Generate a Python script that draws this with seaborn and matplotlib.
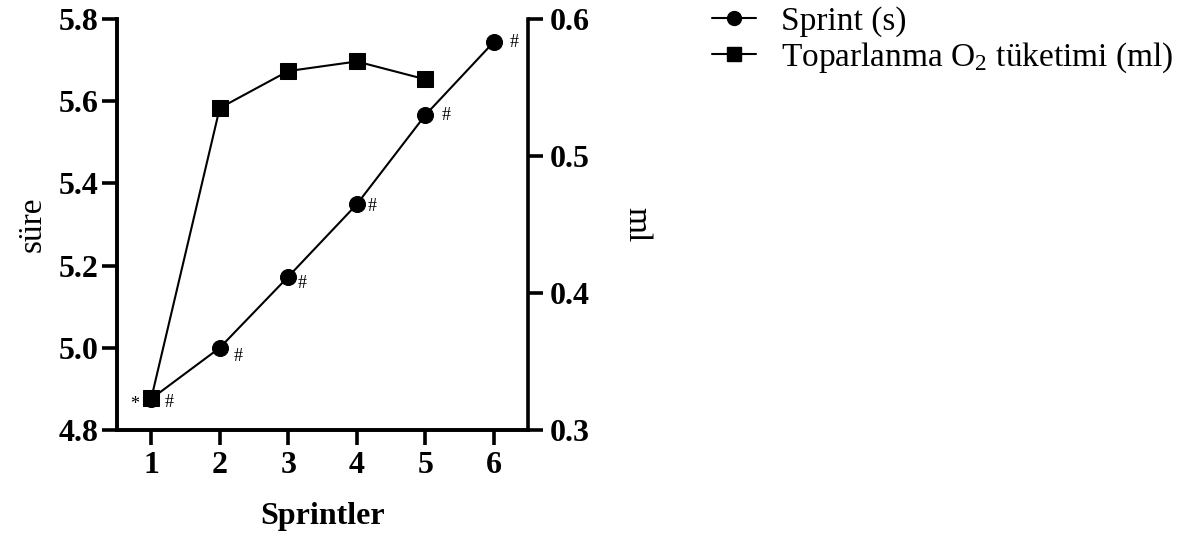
import matplotlib
matplotlib.use("Agg")
import matplotlib.pyplot as plt
import seaborn as sns
import pandas as pd
from matplotlib.lines import Line2D

sns.set_style("ticks")
plt.rcParams['font.family'] = ['Liberation Serif', 'DejaVu Serif']
plt.rcParams['mathtext.fontset'] = 'custom'
plt.rcParams['mathtext.rm'] = 'Liberation Serif'
plt.rcParams['text.color'] = 'black'
plt.rcParams['axes.labelcolor'] = 'black'
plt.rcParams['xtick.color'] = 'black'
plt.rcParams['ytick.color'] = 'black'
plt.rcParams['axes.edgecolor'] = 'black'

# data
sprints = [1, 2, 3, 4, 5, 6]
sprint_time = [4.876, 5.0, 5.173, 5.349, 5.566, 5.744]
o2_sprints = [1, 2, 3, 4, 5]
o2_uptake = [0.323, 0.535, 0.562, 0.569, 0.556]
sprint_marks = ['#', '#', '#', '#', '#', '#']
o2_marks = ['*']
left_ticks = [4.8, 5.0, 5.2, 5.4, 5.6, 5.8]
right_ticks = [0.3, 0.4, 0.5, 0.6]
label_sprint = 'Sprint (s)'
label_o2 = r'Toparlanma O$\mathregular{_2}$ tüketimi (ml)'

df1 = pd.DataFrame({'x': sprints, 'y': sprint_time})
df2 = pd.DataFrame({'x': o2_sprints, 'y': o2_uptake})

W, H = 1182, 552
fig = plt.figure(figsize=(W / 100, H / 100), dpi=100)
ax = fig.add_axes([117 / W, 1 - 430 / H, (528 - 117) / W, (430 - 19) / H])
ax2 = ax.twinx()

sns.lineplot(data=df1, x='x', y='y', ax=ax, color='black', marker='o',
             markersize=11.5, linewidth=1.5, markeredgecolor='black', legend=False)
sns.lineplot(data=df2, x='x', y='y', ax=ax2, color='black', marker='s',
             markersize=12, linewidth=1.5, markeredgecolor='black', legend=False)

ax.set_xlim(0.5, 6.5)
ax.set_ylim(4.8, 5.8)
ax2.set_ylim(0.3, 0.6)
ax.set_xticks(sprints)
ax.set_yticks(left_ticks)
ax.set_yticklabels([f'{v:.1f}' for v in left_ticks])
ax2.set_yticks(right_ticks)
ax2.set_yticklabels([f'{v:.1f}' for v in right_ticks])

for a in (ax, ax2):
    for s in a.spines.values():
        s.set_linewidth(2.6)
        s.set_color('black')
    a.spines['top'].set_visible(False)
    a.tick_params(width=2.6, length=11, pad=2, labelsize=23, colors='black')
    for lab in a.get_xticklabels() + a.get_yticklabels():
        lab.set_fontweight('bold')
ax.spines['right'].set_visible(False)
ax2.spines['right'].set_visible(True)
ax.tick_params(axis='x', pad=4)
ax2.tick_params(axis='y', pad=5)

ax.set_xlabel('Sprintler', fontsize=23, fontweight='bold', labelpad=16)
ax.set_ylabel('süre', fontsize=24, labelpad=8)
ax2.set_ylabel('ml', fontsize=24, rotation=270, labelpad=44)

# annotations
offs = [(13, -3), (13, -6), (10, -5), (11, -1.5), (15, -0.5), (15, 0)]
for x, y, m, o in zip(sprints, sprint_time, sprint_marks, offs):
    ax.annotate(m, (x, y), xytext=o, textcoords='offset points',
                fontsize=13, ha='center', va='center')
for x, y, m in zip(o2_sprints, o2_uptake, o2_marks):
    ax2.annotate(m, (x, y), xytext=(-12, -4), textcoords='offset points',
                 fontsize=13, ha='center', va='center')

handles = [Line2D([], [], color='black', marker='o', markersize=10, linewidth=1.5),
           Line2D([], [], color='black', marker='s', markersize=10, linewidth=1.5)]
fig.legend(handles, [label_sprint, label_o2], loc='upper left',
           bbox_to_anchor=(712 / W, 1 - 6 / H), frameon=False, fontsize=24,
           handlelength=1.33, handletextpad=0.75, labelspacing=0.12,
           borderpad=0, borderaxespad=0)

fig.savefig('out.png', dpi=100)
